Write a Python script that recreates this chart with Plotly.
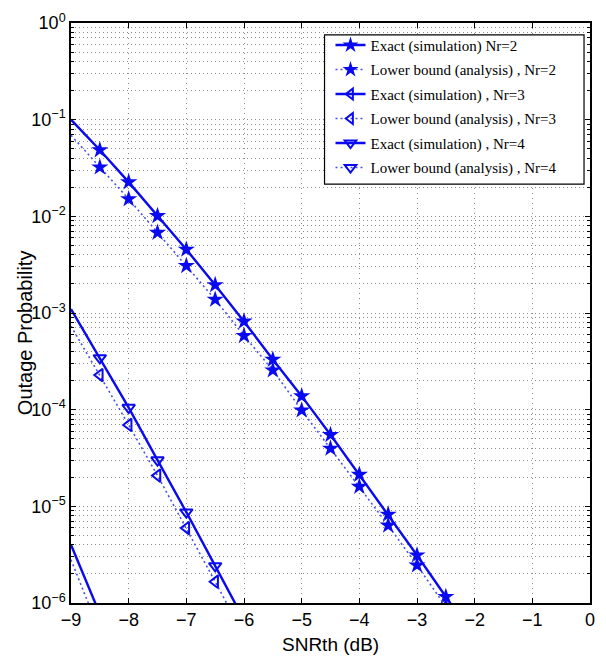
import plotly.graph_objects as go

# SNR threshold grid (dB)
SNR_NR2 = [-9.0, -8.5, -8.0, -7.5, -7.0, -6.5, -6.0, -5.5, -5.0, -4.5, -4.0, -3.5, -3.0, -2.5, -2.0]
SNR_NR3 = [-9.0, -8.5, -8.0, -7.5, -7.0, -6.5, -6.0]
SNR_NR4 = [-9.0, -8.5]

# Outage probability, Nr = 2
NR2_EXACT = [1.00e-1, 4.85e-2, 2.26e-2, 1.01e-2, 4.54e-3, 1.95e-3, 8.18e-4, 3.30e-4,
             1.38e-4, 5.49e-5, 2.13e-5, 8.24e-6, 3.12e-6, 1.16e-6, 4.3e-7]
NR2_LOWER = [6.9e-2, 3.22e-2, 1.51e-2, 6.79e-3, 3.08e-3, 1.38e-3, 5.82e-4, 2.56e-4,
             9.86e-5, 3.97e-5, 1.60e-5, 6.35e-6, 2.46e-6, 9.3e-7, 3.4e-7]

# Outage probability, Nr = 3
NR3_EXACT = [1.10e-3, 3.43e-4, 1.05e-4, 3.01e-5, 8.70e-6, 2.42e-6, 6.7e-7]
NR3_LOWER = [7.3e-4, 2.28e-4, 6.95e-5, 2.08e-5, 5.96e-6, 1.66e-6, 4.6e-7]

# Outage probability, Nr = 4
NR4_EXACT = [4.0e-6, 7.7e-7]
NR4_LOWER = [2.8e-6, 5.0e-7]

NAMES = [
    "Exact (simulation) Nr=2",
    "Lower bound (analysis) , Nr=2",
    "Exact (simulation) , Nr=3",
    "Lower bound (analysis) , Nr=3",
    "Exact (simulation) , Nr=4",
    "Lower bound (analysis) , Nr=4",
]

Y_TICKS = [1, 1e-1, 1e-2, 1e-3, 1e-4, 1e-5, 1e-6]
Y_TICKTEXT = ["10<sup>0</sup>", "10<sup>\u22121</sup>", "10<sup>\u22122</sup>", "10<sup>\u22123</sup>",
              "10<sup>\u22124</sup>", "10<sup>\u22125</sup>", "10<sup>\u22126</sup>"]
X_TICKS = [-9, -8, -7, -6, -5, -4, -3, -2, -1, 0]
X_TICKTEXT = ["\u22129", "\u22128", "\u22127", "\u22126", "\u22125", "\u22124", "\u22123", "\u22122", "\u22121", "0"]

BLUE = "#0a0af0"
DOT_BLUE = "#4452e8"


def sizes(n, s):
    # no marker on the first (x = -9) sample
    return [0] + [s] * (n - 1)


def symbols(n, first, rest):
    return [first] + [rest] * (n - 1)


fig = go.Figure()

# Nr=4 has only two samples (the second lies below the axis), so its marker
# size is doubled to keep the legend glyph the same size as the others.
series = [
    (SNR_NR2, NR2_EXACT, NAMES[0], "solid", symbols(len(SNR_NR2), "star", "star"), 13, 0),
    (SNR_NR2, NR2_LOWER, NAMES[1], "dot", symbols(len(SNR_NR2), "star", "star"), 13, 0),
    (SNR_NR3, NR3_EXACT, NAMES[2], "solid",
     symbols(len(SNR_NR3), "triangle-left-open", "triangle-down-open"), 11, 2),
    (SNR_NR3, NR3_LOWER, NAMES[3], "dot",
     symbols(len(SNR_NR3), "triangle-left-open", "triangle-left-open"), 11, 2),
    (SNR_NR4, NR4_EXACT, NAMES[4], "solid",
     symbols(len(SNR_NR4), "triangle-down-open", "triangle-down-open"), 20, 2),
    (SNR_NR4, NR4_LOWER, NAMES[5], "dot",
     symbols(len(SNR_NR4), "triangle-down-open", "triangle-down-open"), 20, 2),
]

for i, (xs, ys, name, dash, syms, msize, mlw) in enumerate(series):
    solid = dash == "solid"
    fig.add_trace(go.Scatter(
        x=xs, y=ys, name=name, mode="lines+markers",
        legendgroup=f"g{i}",
        line=dict(color=BLUE if solid else DOT_BLUE, width=2.4 if solid else 1.6,
                  dash="solid" if solid else "2px,3px"),
        marker=dict(symbol=syms, size=sizes(len(xs), msize), color=BLUE, opacity=1,
                    line=dict(color=BLUE, width=mlw)),
    ))

grid = "#8c8c8c"
fig.update_layout(
    width=606, height=661,
    margin=dict(l=71, r=11, t=20, b=58),
    paper_bgcolor="white", plot_bgcolor="white",
    font=dict(family="Liberation Sans, Arial, sans-serif", size=18, color="black"),
    showlegend=True,
    legend=dict(
        x=0.5, y=0.99, xanchor="left", yanchor="top",
        bgcolor="rgba(0,0,0,0)", borderwidth=0,
        font=dict(family="Liberation Serif, Times New Roman, serif", size=15, color="black"),
        tracegroupgap=2, itemwidth=30,
    ),
    # legend frame
    shapes=[dict(type="rect", xref="paper", yref="paper",
                 x0=0.4885, x1=0.9885, y0=0.7221, y1=0.9794,
                 fillcolor="white", line=dict(color="black", width=1.2), layer="above")],
    xaxis=dict(
        range=[-9, 0], tickvals=X_TICKS, ticktext=X_TICKTEXT,
        showgrid=True, gridcolor=grid, griddash="1px,4px", gridwidth=1,
        ticks="inside", ticklen=5, tickcolor="black",
        showline=True, linecolor="black", linewidth=1.5, mirror="allticks",
        zeroline=False,
    ),
    yaxis=dict(
        type="log", range=[-6, 0], tickvals=Y_TICKS, ticktext=Y_TICKTEXT,
        showgrid=True, gridcolor=grid, griddash="1px,3px", gridwidth=1,
        ticks="inside", ticklen=5, tickcolor="black",
        showline=True, linecolor="black", linewidth=1.5, mirror="allticks",
        zeroline=False,
        minor=dict(dtick="D1", showgrid=True, gridcolor=grid, griddash="1px,3px",
                   ticks="inside", ticklen=3, tickcolor="black"),
    ),
    annotations=[
        dict(text="SNRth (dB)", xref="paper", yref="paper", x=0.5, y=-0.072,
             xanchor="center", yanchor="middle", showarrow=False,
             font=dict(size=19)),
        dict(text="Outage Probability", xref="paper", yref="paper", x=-0.0897, y=0.466,
             xanchor="center", yanchor="middle", showarrow=False, textangle=-90,
             font=dict(size=20)),
    ],
)

fig.write_html("out.html")
